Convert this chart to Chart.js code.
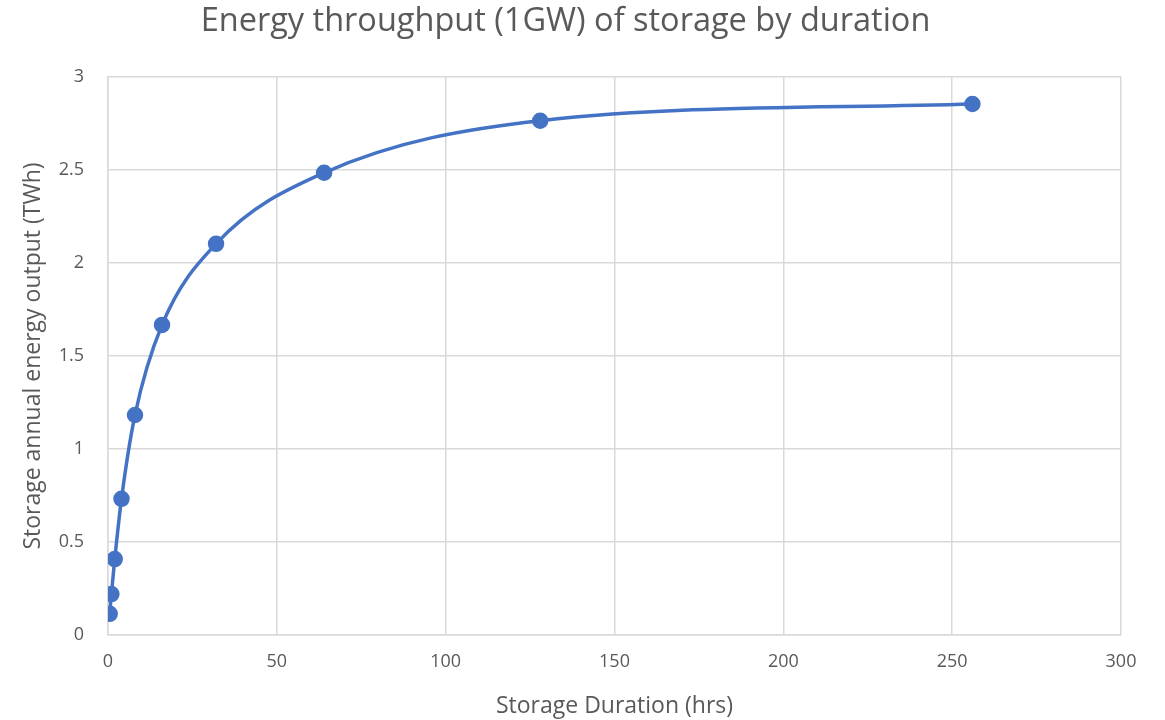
<!DOCTYPE html>
<html>
<head>
<meta charset="utf-8">
<script src="https://cdn.jsdelivr.net/npm/chart.js@4/dist/chart.umd.min.js"></script>
<style>
  html, body { margin: 0; padding: 0; background: #fff; }
  #wrap { width: 1165px; height: 720px; }
</style>
</head>
<body>
<div id="wrap"><canvas id="chart" width="1165" height="720"></canvas></div>
<script>
// Storage duration (hrs) vs annual energy output (TWh)
const durations = [0.5, 1, 2, 4, 8, 16, 32, 64, 128, 256];
const outputs = [0.114, 0.22, 0.408, 0.732, 1.183, 1.667, 2.103, 2.485, 2.765, 2.855];

const xTicks = [0, 50, 100, 150, 200, 250, 300];
const yTicks = [0, 0.5, 1, 1.5, 2, 2.5, 3];

const points = durations.map((d, i) => ({ x: d, y: outputs[i] }));

const textColor = '#595959';
const gridColor = '#d9d9d9';
const fontFamily = "'Segoe UI', 'Open Sans', 'Noto Sans', sans-serif";

const chart = new Chart(document.getElementById('chart'), {
    type: 'scatter',
    data: {
        datasets: [{
            label: 'Energy throughput',
            data: points,
            showLine: true,
            borderColor: '#4472c4',
            backgroundColor: '#4472c4',
            borderWidth: 3.5,
            pointRadius: 6.5,
            pointHoverRadius: 6.5,
            cubicInterpolationMode: 'monotone'
        }]
    },
    options: {
        responsive: false,
        animation: false,
        layout: { padding: { left: 10, right: 44, top: 0, bottom: 0 } },
        plugins: {
            legend: { display: false },
            tooltip: { enabled: false },
            title: {
                display: true,
                text: 'Energy throughput (1GW) of storage by duration',
                color: textColor,
                font: { family: fontFamily, size: 32.5, weight: 'normal' },
                padding: { top: 2, bottom: 36 }
            }
        },
        scales: {
            x: {
                type: 'linear',
                min: 0,
                max: 300,
                afterBuildTicks: s => { s.ticks = xTicks.map(v => ({ value: v })); },
                afterFit: s => { s.height = 85; },
                grid: { color: gridColor, lineWidth: 1.5, drawTicks: false },
                border: { color: gridColor, width: 1.5 },
                ticks: { color: textColor, padding: 16, font: { family: fontFamily, size: 18 } },
                title: {
                    display: true,
                    text: 'Storage Duration (hrs)',
                    color: textColor,
                    font: { family: fontFamily, size: 23 },
                    padding: { top: 8, bottom: 0 }
                }
            },
            y: {
                type: 'linear',
                min: 0,
                max: 3,
                afterBuildTicks: s => { s.ticks = yTicks.map(v => ({ value: v })); },
                afterFit: s => { s.width = 98; },
                grid: { color: gridColor, lineWidth: 1.5, drawTicks: false },
                border: { color: gridColor, width: 1.5 },
                ticks: {
                    color: textColor,
                    padding: 24,
                    font: { family: fontFamily, size: 18 },
                    callback: v => String(v)
                },
                title: {
                    display: true,
                    text: 'Storage annual energy output (TWh)',
                    color: textColor,
                    font: { family: fontFamily, size: 23 },
                    padding: { top: 10, bottom: 0 }
                }
            }
        }
    }
});
</script>
</body>
</html>
